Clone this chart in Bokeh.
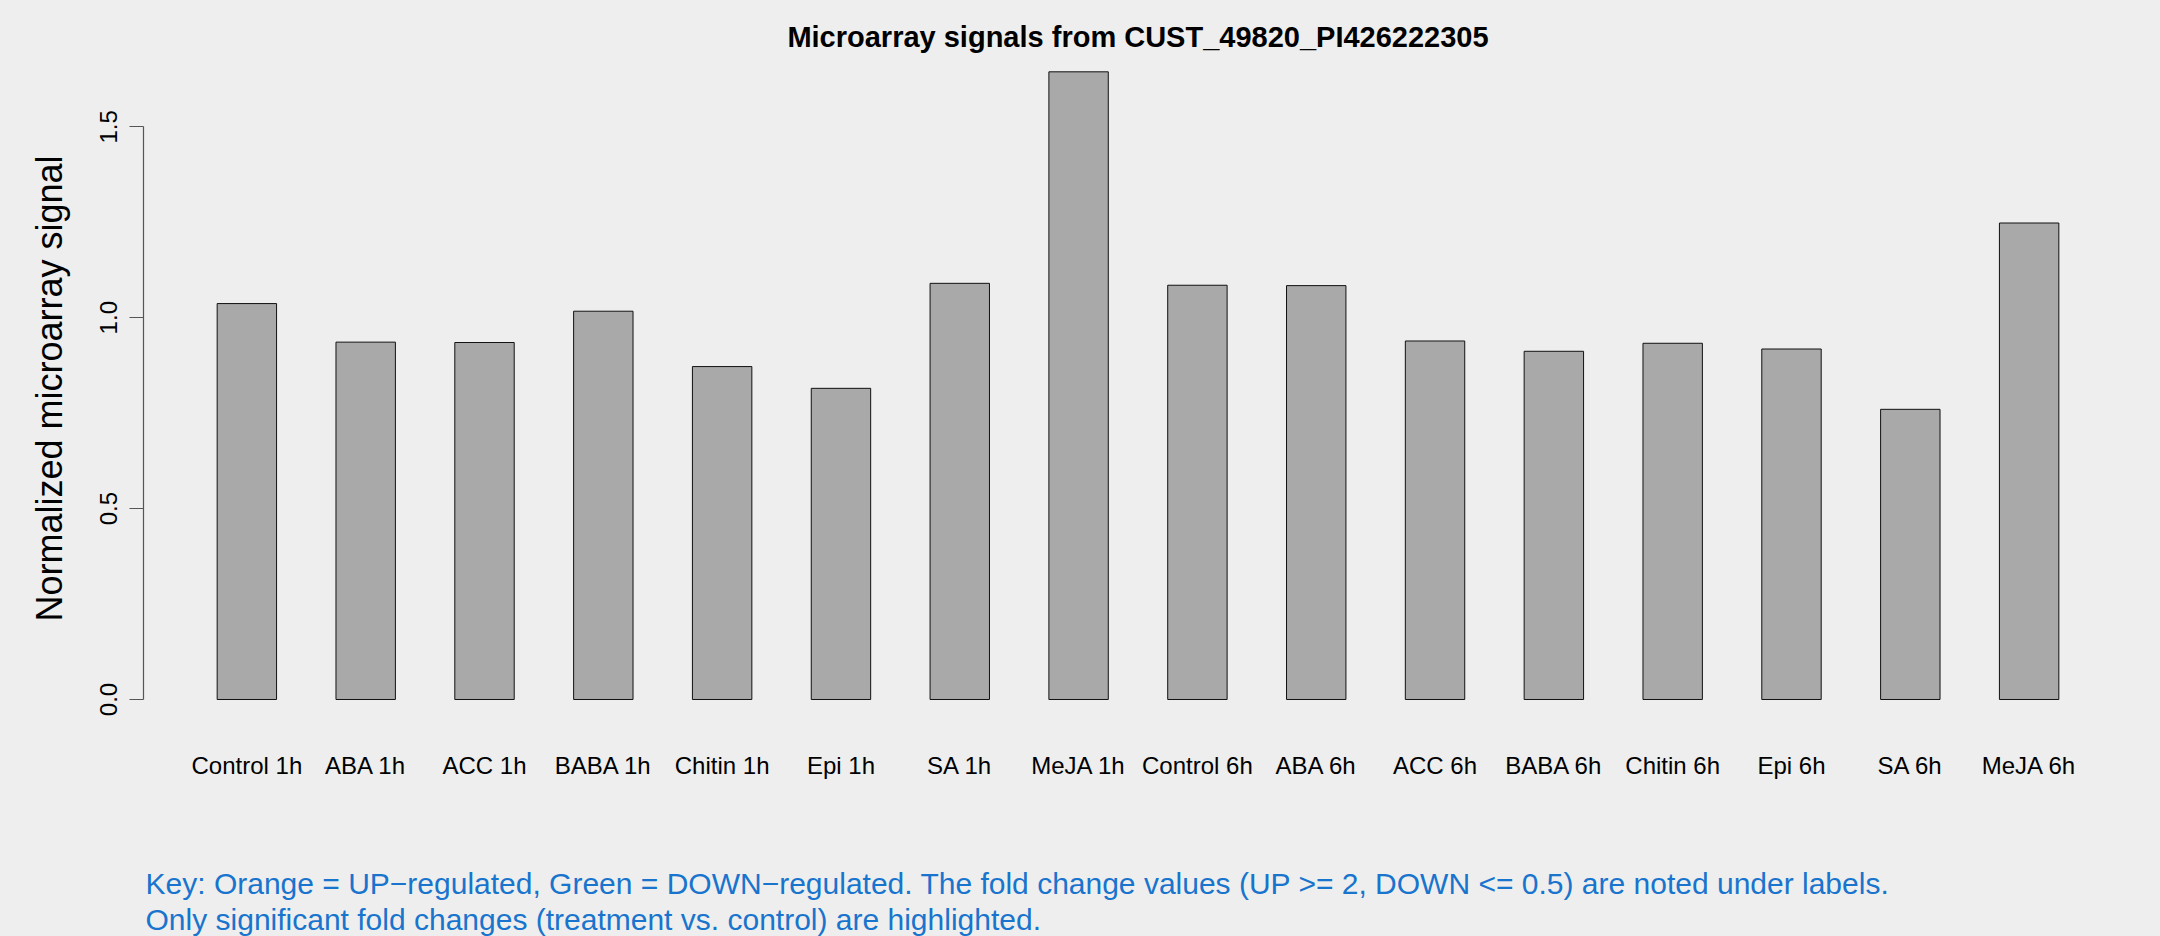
from bokeh.plotting import figure
from bokeh.layouts import column
from bokeh.models import Range1d, LinearAxis, FixedTicker, NumeralTickFormatter, ColumnDataSource
from bokeh.core.properties import value
from bokeh.embed import file_html
from bokeh.resources import INLINE

categories = ["Control 1h", "ABA 1h", "ACC 1h", "BABA 1h", "Chitin 1h", "Epi 1h", "SA 1h", "MeJA 1h",
              "Control 6h", "ABA 6h", "ACC 6h", "BABA 6h", "Chitin 6h", "Epi 6h", "SA 6h", "MeJA 6h"]
signals = [1.037, 0.936, 0.935, 1.017, 0.872, 0.815, 1.090, 1.644,
           1.085, 1.084, 0.939, 0.912, 0.933, 0.918, 0.760, 1.248]
y_ticks = [0.0, 0.5, 1.0, 1.5]
title_text = "Microarray signals from CUST_49820_PI426222305"
y_label = "Normalized microarray signal"
key_lines = [
    "Key: Orange = UP\u2212regulated, Green = DOWN\u2212regulated. The fold change values (UP >= 2, DOWN <= 0.5) are noted under labels.",
    "Only significant fold changes (treatment vs. control) are highlighted.",
]

FONT = "Liberation Sans"
BG = "#EEEEEE"
KEY_COLOR = "#1874CD"
W = 2160
H_TOP = 800
H_KEY = 136

# R barplot layout: bar width 1, gap 1
xpos = [1.5 + 2 * i for i in range(len(categories))]
src = ColumnDataSource(dict(x=xpos, top=signals, cat=categories))

x_rng = Range1d(-0.24, 33.24)

p = figure(width=W, height=H_TOP, output_backend="svg", toolbar_location=None,
           x_range=x_rng, y_range=Range1d(-0.0655, 1.6946),
           x_axis_type=None, y_axis_type=None,
           min_border_left=143, min_border_right=28, min_border_top=52, min_border_bottom=76)
p.background_fill_color = BG
p.border_fill_color = BG
p.outline_line_color = None
p.grid.visible = False

p.title.text = title_text
p.title.align = "center"
p.title.text_font = FONT
p.title.text_font_size = "29px"
p.title.text_font_style = "bold"
p.title.text_color = "black"
p.title.standoff = 0

p.vbar(x="x", top="top", bottom=0, width=1, source=src,
       fill_color="#A9A9A9", line_color="#111111", line_width=1)

# y axis (R style: line only spans the tick range)
yax = LinearAxis(ticker=FixedTicker(ticks=y_ticks), bounds=(0, 1.5),
                 formatter=NumeralTickFormatter(format="0.0"))
yax.axis_line_color = "#555555"
yax.axis_line_width = 1.2
yax.major_tick_line_color = "#555555"
yax.major_tick_line_width = 1.2
yax.major_tick_out = 14
yax.major_tick_in = 0
yax.minor_tick_line_color = None
yax.major_label_orientation = "vertical"
yax.major_label_text_font = FONT
yax.major_label_text_font_size = "24px"
yax.major_label_text_color = "black"
yax.major_label_standoff = 12
yax.axis_label = y_label
yax.axis_label_text_font = FONT
yax.axis_label_text_font_size = "36px"
yax.axis_label_text_font_style = "normal"
yax.axis_label_text_color = "black"
yax.axis_label_standoff = 28
p.add_layout(yax, "left")

# category labels under the bars
xax = LinearAxis(ticker=FixedTicker(ticks=xpos),
                 major_label_overrides={xv: c for xv, c in zip(xpos, categories)})
xax.axis_line_color = None
xax.major_tick_line_color = None
xax.minor_tick_line_color = None
xax.major_tick_out = 0
xax.major_tick_in = 0
xax.major_label_text_font = FONT
xax.major_label_text_font_size = "24px"
xax.major_label_text_color = "black"
xax.major_label_standoff = 27
p.add_layout(xax, "below")

# key strip below the chart (shares the chart's x scale; y in pixels pointing down)
k = figure(width=W, height=H_KEY, output_backend="svg", toolbar_location=None,
           x_range=x_rng, y_range=Range1d(H_KEY, 0),
           x_axis_type=None, y_axis_type=None,
           min_border_left=143, min_border_right=28, min_border_top=0, min_border_bottom=0)
k.background_fill_color = BG
k.border_fill_color = BG
k.outline_line_color = None
k.grid.visible = False

KEY_X = -0.206
KEY_Y = [83, 119]
k.text(x=[KEY_X] * len(key_lines), y=KEY_Y, text=key_lines, text_align="left",
       text_baseline="alphabetic", text_font=value(FONT), text_font_size="30px",
       text_color=KEY_COLOR)

layout = column(p, k, spacing=0, styles={"background-color": BG})
open("out.html", "w").write(file_html(layout, INLINE))
